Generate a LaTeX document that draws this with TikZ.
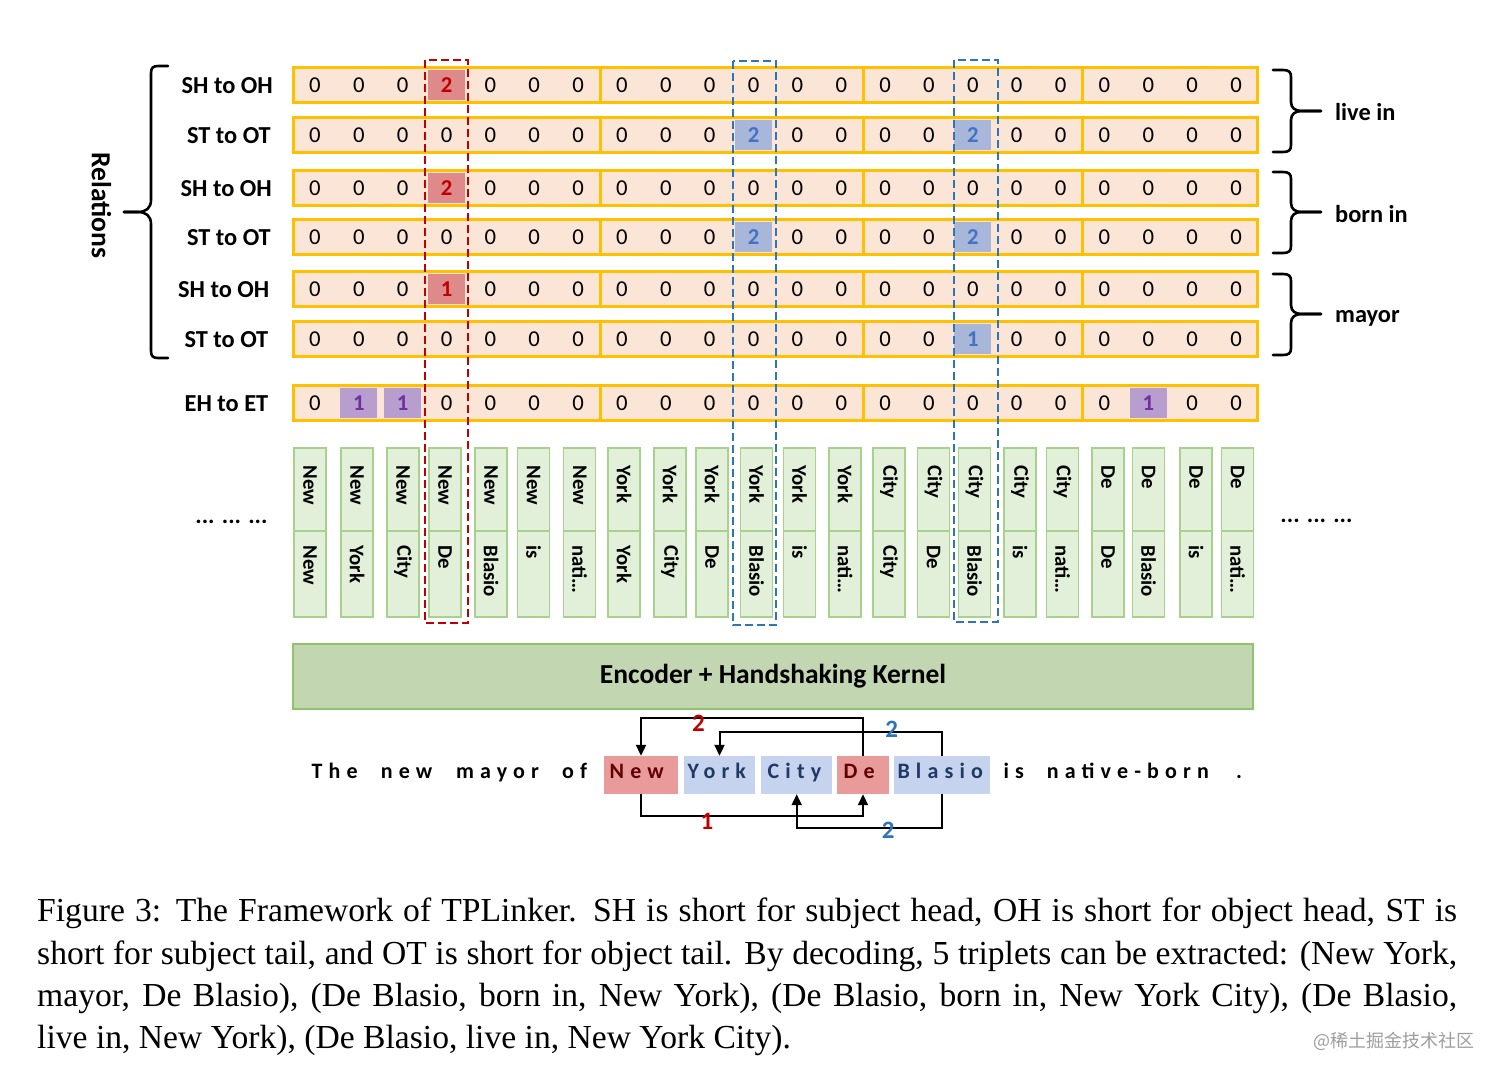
\documentclass[tikz,border=0pt]{standalone}
\usepackage{fontspec}
\setmainfont{Liberation Serif}
\newfontfamily\calfont{Carlito}
\newfontfamily\calsp{Carlito}[LetterSpace=28]
\newfontfamily\cjkfont{Noto Sans CJK SC}
\usetikzlibrary{arrows.meta}

\definecolor{gold}{HTML}{FFC000}
\definecolor{peach}{HTML}{FBE5D6}
\definecolor{hred}{HTML}{DF8A8A}
\definecolor{hredtxt}{HTML}{C00000}
\definecolor{hblue}{HTML}{A8B6DA}
\definecolor{hbluetxt}{HTML}{4472C4}
\definecolor{hpurp}{HTML}{B89ECE}
\definecolor{hpurptxt}{HTML}{7030A0}
\definecolor{tokfill}{HTML}{E2F0D9}
\definecolor{tokdraw}{HTML}{A9D18E}
\definecolor{encfill}{HTML}{C3D6B2}
\definecolor{encdraw}{HTML}{92C36A}
\definecolor{sred}{HTML}{E99B9B}
\definecolor{sredtxt}{HTML}{600000}
\definecolor{sblue}{HTML}{C5D3EE}
\definecolor{sbluetxt}{HTML}{1F3864}
\definecolor{dred}{HTML}{C00000}
\definecolor{dblue}{HTML}{2E75B6}

\newcommand\cellrow[3]{%
  \foreach \s/\t [count=\c from 0] in {#3} {%
    \node[\s] (c#2-\c) at ({293+43.86*(\c+0.5)},#1) {\t};
  }%
}

\begin{document}
\begin{tikzpicture}[x=1pt,y=-1pt,
  rowseg/.style={draw=gold, fill=peach, line width=3pt},
  cellbase/.style={inner sep=0pt, minimum width=37pt, minimum height=30pt},
  celln/.style={cellbase, font=\calfont\fontsize{22.7}{26}\selectfont},
  cellr/.style={cellbase, fill=hred, text=hredtxt, font=\calfont\bfseries\fontsize{22.7}{26}\selectfont},
  cellb/.style={cellbase, fill=hblue, text=hbluetxt, font=\calfont\bfseries\fontsize{22.7}{26}\selectfont},
  cellp/.style={cellbase, fill=hpurp, text=hpurptxt, font=\calfont\bfseries\fontsize{22.7}{26}\selectfont},
  rowlab/.style={anchor=base east, inner sep=0pt, font=\calfont\bfseries\fontsize{24.4}{28}\selectfont},
  grplab/.style={anchor=base west, inner sep=0pt, font=\calfont\bfseries\fontsize{24.4}{28}\selectfont},
  brace/.style={line width=2.6pt, line cap=round, line join=round},
  tokbox/.style={draw=tokdraw, fill=tokfill, line width=1.5pt, minimum width=32pt, inner sep=0pt},
  toktext/.style={rotate=-90, anchor=west, inner sep=0pt, font=\calfont\bfseries\fontsize{20.8}{24}\selectfont},
  dashr/.style={draw=dred, line width=2pt, dash pattern=on 8pt off 4pt},
  dashb/.style={draw=dblue, line width=2pt, dash pattern=on 8pt off 4pt},
  sentbox/.style={minimum height=38pt, inner sep=0pt},
  sentword/.style={anchor=base west, inner sep=0pt, font=\calsp\bfseries\fontsize{22}{26}\selectfont},
  arr/.style={line width=2pt, -{Triangle[length=11pt,width=10pt]}},
  numlab/.style={inner sep=0pt, font=\calfont\bfseries\fontsize{25}{28}\selectfont},
  dots/.style={inner sep=0pt, font=\calfont\bfseries\fontsize{24}{28}\selectfont}
]
\fill[white] (0,0) rectangle (1503,1080);
\useasboundingbox (0,0) rectangle (1503,1080);

% rows of cells
\foreach \y in {85,135,188,237,289,339,403} {
  \foreach \a/\b in {0/7,7/13,13/18,18/22} {
    \path[rowseg] ({293+43.86*\a},{\y-17.5}) rectangle ({293+43.86*\b},{\y+17.5});
  }
}
\cellrow{85}{1}{celln/0,celln/0,celln/0,cellr/2,celln/0,celln/0,celln/0,celln/0,celln/0,celln/0,celln/0,celln/0,celln/0,celln/0,celln/0,celln/0,celln/0,celln/0,celln/0,celln/0,celln/0,celln/0}
\cellrow{135}{2}{celln/0,celln/0,celln/0,celln/0,celln/0,celln/0,celln/0,celln/0,celln/0,celln/0,cellb/2,celln/0,celln/0,celln/0,celln/0,cellb/2,celln/0,celln/0,celln/0,celln/0,celln/0,celln/0}
\cellrow{188}{3}{celln/0,celln/0,celln/0,cellr/2,celln/0,celln/0,celln/0,celln/0,celln/0,celln/0,celln/0,celln/0,celln/0,celln/0,celln/0,celln/0,celln/0,celln/0,celln/0,celln/0,celln/0,celln/0}
\cellrow{237}{4}{celln/0,celln/0,celln/0,celln/0,celln/0,celln/0,celln/0,celln/0,celln/0,celln/0,cellb/2,celln/0,celln/0,celln/0,celln/0,cellb/2,celln/0,celln/0,celln/0,celln/0,celln/0,celln/0}
\cellrow{289}{5}{celln/0,celln/0,celln/0,cellr/1,celln/0,celln/0,celln/0,celln/0,celln/0,celln/0,celln/0,celln/0,celln/0,celln/0,celln/0,celln/0,celln/0,celln/0,celln/0,celln/0,celln/0,celln/0}
\cellrow{339}{6}{celln/0,celln/0,celln/0,celln/0,celln/0,celln/0,celln/0,celln/0,celln/0,celln/0,celln/0,celln/0,celln/0,celln/0,celln/0,cellb/1,celln/0,celln/0,celln/0,celln/0,celln/0,celln/0}
\cellrow{403}{7}{celln/0,cellp/1,cellp/1,celln/0,celln/0,celln/0,celln/0,celln/0,celln/0,celln/0,celln/0,celln/0,celln/0,celln/0,celln/0,celln/0,celln/0,celln/0,celln/0,cellp/1,celln/0,celln/0}

% row labels
\node[rowlab] (l1) at (273,93) {SH to OH};
\node[rowlab] (l2) at (271,143) {ST to OT};
\node[rowlab] (l3) at (272,196) {SH to OH};
\node[rowlab] (l4) at (271,245) {ST to OT};
\node[rowlab] (l5) at (269.5,297) {SH to OH};
\node[rowlab] (l6) at (268.5,347) {ST to OT};
\node[rowlab] (l7) at (268.5,411) {EH to ET};

% Relations brace
\draw[brace] (168,66) -- (158,66) .. controls (153,66) and (151,68) .. (151,73) -- (151,200)
  .. controls (151,208) and (146,212) .. (138,212) -- (124,212);
\draw[brace] (124,212) -- (138,212) .. controls (146,212) and (151,216) .. (151,224) -- (151,351)
  .. controls (151,356) and (153,358) .. (158,358) -- (168,358);
\node[rotate=-90, inner sep=0pt, font=\calfont\bfseries\fontsize{27.6}{30}\selectfont] (rel) at (101.5,205.5) {Relations};

% right braces
\foreach \t/\m/\b in {70/111/152, 172/212/253, 274/314/355} {
  \draw[brace] (1273,\t) -- (1283,\t) .. controls (1289,\t) and (1291,{\t+2}) .. (1291,{\t+7}) -- (1291,{\m-9})
    .. controls (1291,{\m-3}) and (1295,\m) .. (1302,\m) -- (1321,\m);
  \draw[brace] (1321,\m) -- (1302,\m) .. controls (1295,\m) and (1291,{\m+3}) .. (1291,{\m+9}) -- (1291,{\b-7})
    .. controls (1291,{\b-2}) and (1289,\b) .. (1283,\b) -- (1273,\b);
}
\node[grplab] (g1) at (1335,120) {live in};
\node[grplab] (g2) at (1335,222) {born in};
\node[grplab] (g3) at (1335,322.5) {mayor};

% token pair boxes
\foreach \cx/\ta/\tb [count=\k] in {310/New/New, 357/New/York, 403/New/City, 445/New/De, 491/New/Blasio, 533.5/New/is, 579.7/New/nati…, 624/York/York, 670/York/City, 712/York/De, 756.5/York/Blasio, 799.5/York/is, 845/York/nati…, 889/City/City, 933.5/City/De, 974.5/City/Blasio, 1020/City/is, 1062.5/City/nati…, 1108/De/De, 1148.5/De/Blasio, 1196/De/is, 1237.5/De/nati…} {
  \node[tokbox, minimum height=83pt] (tt\k) at (\cx,489.5) {};
  \node[tokbox, minimum height=86pt] (tb\k) at (\cx,574) {};
  \node[toktext] (ttx\k) at ([yshift=-18pt]tt\k.north) {\ta};
  \node[toktext] (tbx\k) at ([yshift=-15pt]tb\k.north) {\tb};
}
\node[dots] (dl) at (231.5,522) {... ... ...};
\node[dots] (dr) at (1316.5,521) {... ... ...};

% dashed column frames
\draw[dashr] (425,60) rectangle (468,623);
\draw[dashb] (733,61) rectangle (776,625);
\draw[dashb] (954,60) rectangle (998,622);

% encoder
\node[draw=encdraw, fill=encfill, line width=2pt, minimum width=960pt, minimum height=65pt, inner sep=0pt,
  font=\calfont\bfseries\fontsize{27.5}{30}\selectfont] (enc) at (773,676.5) {Encoder + Handshaking Kernel};

% sentence
\node[sentbox, fill=sred, minimum width=74pt] (New) at (641,775) {};
\node[sentbox, fill=sblue, minimum width=71pt] (York) at (719.5,775) {};
\node[sentbox, fill=sblue, minimum width=71.4pt] (City) at (796.7,775) {};
\node[sentbox, fill=sred, minimum width=52pt] (De) at (863,775) {};
\node[sentbox, fill=sblue, minimum width=96pt] (Blasio) at (942,775) {};
\node[sentword] (w1) at (311.4,778) {The};
\node[sentword] (w2) at (380.6,778) {new};
\node[sentword] (w3) at (456,778) {mayor};
\node[sentword] (w4) at (562,778) {of};
\node[sentword, text=sredtxt] (tNew) at (609.5,778) {New};
\node[sentword, text=sbluetxt] (tYork) at (687.5,778) {York};
\node[sentword, text=sbluetxt] (tCity) at (767.5,778) {City};
\node[sentword, text=sredtxt] (tDe) at (843.5,778) {De};
\node[sentword, text=sbluetxt] (tBlasio) at (897.3,778) {Blasio};
\node[sentword] (w5) at (1003.3,778) {is};
\node[sentword] (w6) at (1046.7,778) {native-born};
\node[sentword] (w7) at (1236,778) {.};

% arrows
\draw[arr] (De.north) -- (De.north |- 0,718) -| (New.north);
\draw[arr] (Blasio.north) -- (Blasio.north |- 0,732) -| (York.north);
\draw[arr] (New.south) -- (New.south |- 0,816) -| (De.south);
\draw[arr] (Blasio.south) -- (Blasio.south |- 0,828) -| (City.south);
\node[numlab, text=dred] (n1) at (698.5,723) {2};
\node[numlab, text=dblue] (n2) at (891.7,729) {2};
\node[numlab, text=dred] (n3) at (707,821) {1};
\node[numlab, text=dblue] (n4) at (888.3,830) {2};

% caption
\node[anchor=north west, inner sep=0pt, text width=1420pt, align=justify,
  font=\fontsize{33.6}{42.3}\selectfont] (cap) at (37,898)
{Figure 3: The Framework of TPLinker. SH is short for subject head, OH is short for object head, ST is\linebreak
short for subject tail, and OT is short for object tail. By decoding, 5 triplets can be extracted: (New York,\linebreak
mayor, De Blasio), (De Blasio, born in, New York), (De Blasio, born in, New York City), (De Blasio,\linebreak
live in, New York), (De Blasio, live in, New York City).};

\node[inner sep=0pt, text=black!38, font=\cjkfont\fontsize{18}{20}\selectfont] (wm) at (1394,1041) {@稀土掘金技术社区};
\end{tikzpicture}
\end{document}
